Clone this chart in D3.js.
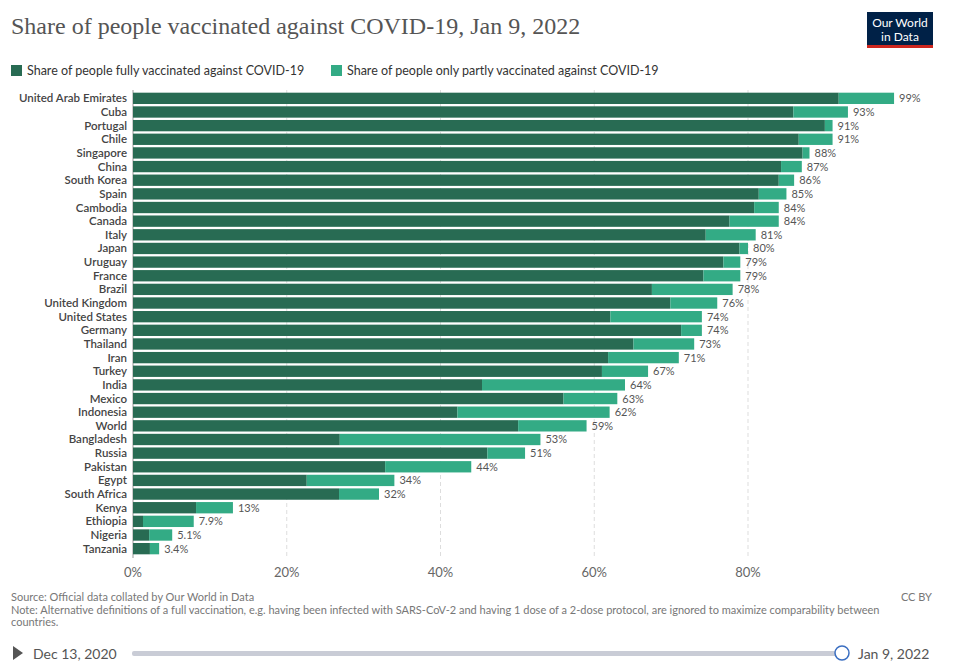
<!DOCTYPE html>
<html><head><meta charset="utf-8">
<script src="https://cdn.jsdelivr.net/npm/d3@7"></script>
<style>
body{margin:0;background:#fff;font-family:Lato,sans-serif;}
svg text{font-family:Lato,sans-serif;}
</style></head><body>
<div id="chart"></div>
<script>
const countries = ["United Arab Emirates","Cuba","Portugal","Chile","Singapore","China","South Korea","Spain","Cambodia","Canada","Italy","Japan","Uruguay","France","Brazil","United Kingdom","United States","Germany","Thailand","Iran","Turkey","India","Mexico","Indonesia","World","Bangladesh","Russia","Pakistan","Egypt","South Africa","Kenya","Ethiopia","Nigeria","Tanzania"];
const fullyVaccinated = [91.8,85.9,90.0,86.6,87.1,84.3,84.0,81.4,80.8,77.6,74.5,78.9,76.8,74.2,67.5,69.9,62.1,71.3,65.1,61.8,61.0,45.4,56.0,42.2,50.1,26.9,46.1,32.8,22.6,26.8,8.2,1.3,2.1,2.2];
const totalVaccinated = [99,93,91,91,88,87,86,85,84,84,81,80,79,79,78,76,74,74,73,71,67,64,63,62,59,53,51,44,34,32,13,7.9,5.1,3.4];
const totalLabels = ["99%","93%","91%","91%","88%","87%","86%","85%","84%","84%","81%","80%","79%","79%","78%","76%","74%","74%","73%","71%","67%","64%","63%","62%","59%","53%","51%","44%","34%","32%","13%","7.9%","5.1%","3.4%"];
const xTicks = [0,20,40,60,80];

const W = 954, H = 670;
const svg = d3.select("#chart").append("svg").attr("width", W).attr("height", H);

// title + logo
svg.append("text").attr("x", 11).attr("y", 34).text("Share of people vaccinated against COVID-19, Jan 9, 2022")
  .style("font-family", "'Liberation Serif', serif").style("font-size", "24px").attr("fill", "#555");
svg.append("rect").attr("x", 867).attr("y", 12).attr("width", 66).attr("height", 36).attr("fill", "#002147");
svg.append("rect").attr("x", 867).attr("y", 45).attr("width", 66).attr("height", 3).attr("fill", "#ce261e");
svg.append("text").attr("x", 900).attr("y", 27).attr("text-anchor", "middle").attr("fill", "#fff").style("font-size", "12px").text("Our World");
svg.append("text").attr("x", 900).attr("y", 41).attr("text-anchor", "middle").attr("fill", "#fff").style("font-size", "12px").text("in Data");

// legend
const dark = "#286b53", light = "#33ab85";
const legend = [["Share of people fully vaccinated against COVID-19", dark, 11], ["Share of people only partly vaccinated against COVID-19", light, 331]];
legend.forEach(([t, c, x]) => {
  svg.append("rect").attr("x", x).attr("y", 65).attr("width", 11).attr("height", 11).attr("fill", c);
  svg.append("text").attr("x", x + 16).attr("y", 75).text(t).style("font-size", "12.5px").attr("fill", "#333");
});

const x = d3.scaleLinear().domain([0, 80]).range([133, 748]);
const y = d3.scaleBand().domain(countries).range([92, 555]).paddingInner(0.17).paddingOuter(0.05);

// grid
svg.selectAll(".grid").data(xTicks).join("line")
  .attr("x1", d => x(d)).attr("x2", d => x(d)).attr("y1", 90).attr("y2", 558)
  .attr("stroke-dasharray", d => d === 0 ? null : "4,3")
  .attr("stroke", d => d === 0 ? "#999" : "#ddd");
svg.selectAll(".tick-label").data(xTicks).join("text")
  .attr("x", d => x(d)).attr("y", 577).attr("text-anchor", "middle")
  .style("font-size", "13px").attr("fill", "#666").text(d => d + "%");

const rows = countries.map((c, i) => ({c, f: fullyVaccinated[i], t: totalVaccinated[i], l: totalLabels[i]}));
svg.selectAll(".full").data(rows).join("rect")
  .attr("x", x(0)).attr("y", d => y(d.c)).attr("height", y.bandwidth())
  .attr("width", d => x(d.f) - x(0)).attr("fill", dark);
svg.selectAll(".part").data(rows).join("rect")
  .attr("x", d => x(d.f)).attr("y", d => y(d.c)).attr("height", y.bandwidth())
  .attr("width", d => x(d.t) - x(d.f)).attr("fill", light);
svg.selectAll(".name").data(rows).join("text")
  .attr("x", 127).attr("y", d => y(d.c) + y.bandwidth() / 2 + 4).attr("text-anchor", "end")
  .style("font-size", "11.5px").style("font-weight", "600").attr("fill", "#444").text(d => d.c);
svg.selectAll(".val").data(rows).join("text")
  .attr("x", d => x(d.t) + 5).attr("y", d => y(d.c) + y.bandwidth() / 2 + 4)
  .style("font-size", "11px").attr("fill", "#555").text(d => d.l);

// footer
const foot = [["Source: Official data collated by Our World in Data", 601], ["Note: Alternative definitions of a full vaccination, e.g. having been infected with SARS-CoV-2 and having 1 dose of a 2-dose protocol, are ignored to maximize comparability between", 614], ["countries.", 626]];
foot.forEach(([t, yy]) => svg.append("text").attr("x", 11).attr("y", yy).text(t).style("font-size", "11px").attr("fill", "#777"));
svg.append("text").attr("x", 932).attr("y", 601).attr("text-anchor", "end").text("CC BY").style("font-size", "11px").attr("fill", "#777");

// timeline
svg.append("path").attr("d", "M13,646 L23,653 L13,660 Z").attr("fill", "#555");
svg.append("text").attr("x", 33).attr("y", 659).text("Dec 13, 2020").style("font-size", "14px").attr("fill", "#555");
svg.append("rect").attr("x", 132).attr("y", 651).attr("width", 710).attr("height", 5).attr("rx", 2).attr("fill", "#c9ccd6");
svg.append("circle").attr("cx", 842).attr("cy", 653).attr("r", 7).attr("fill", "#fff").attr("stroke", "#3a6ec1").attr("stroke-width", 1.5);
svg.append("text").attr("x", 858).attr("y", 659).text("Jan 9, 2022").style("font-size", "14px").attr("fill", "#555");
</script></body></html>
